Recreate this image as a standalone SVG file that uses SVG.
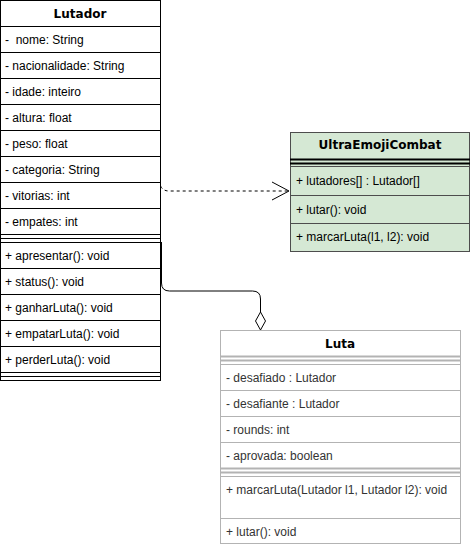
<svg xmlns="http://www.w3.org/2000/svg" width="472" height="548" viewBox="0 0 472 548">
<defs>
<style>
.t{font-family:"Liberation Sans",Arial,sans-serif;font-size:12px;fill:#000;dominant-baseline:central;white-space:pre}
.h{font-family:"DejaVu Sans",Verdana,sans-serif;font-size:12px;font-weight:bold;fill:#000;text-anchor:middle;dominant-baseline:central}
.bl{stroke:#000;stroke-width:1;fill:none}
.gr{stroke:#B3B3B3;stroke-width:1;fill:none}
.gt{fill:#333}
</style>
</defs>
<rect width="472" height="548" fill="#fff"/>
<g id="connectors">
<path d="M160.5,186 Q163,191 169,191 L288,191" fill="none" stroke="#000" stroke-dasharray="3,3"/>
<path d="M272,182 L289,191 L272,200" fill="none" stroke="#000"/>
<path d="M161.5,242 L161.5,283 Q161.5,291 169.5,291 L252.5,291 Q260.5,291 260.5,299 L260.5,312" fill="none" stroke="#000"/>
<path d="M260.5,312 L265.5,321 L260.5,330 L255.5,321 Z" fill="#fff" stroke="#000"/>
</g>
<g id="Lutador">
<rect x="0.5" y="0.5" width="160" height="380" fill="#fff" stroke="#000"/>
<text class="h" x="80" y="14">Lutador</text>
<path class="bl" d="M0,26.5H161M0,52.5H161M0,78.5H161M0,104.5H161M0,130.5H161M0,156.5H161M0,182.5H161M0,208.5H161M0,234.5H161M0,238.5H161M0,242.5H161M0,268.5H161M0,294.5H161M0,320.5H161M0,346.5H161M0,372.5H161M0,376.5H161"/>
<text class="t" x="5" y="40" xml:space="preserve">-  nome: String</text>
<text class="t" x="5" y="66">- nacionalidade: String</text>
<text class="t" x="5" y="92">- idade: inteiro</text>
<text class="t" x="5" y="118">- altura: float</text>
<text class="t" x="5" y="144">- peso: float</text>
<text class="t" x="5" y="170">- categoria: String</text>
<text class="t" x="5" y="196">- vitorias: int</text>
<text class="t" x="5" y="222">- empates: int</text>
<text class="t" x="5" y="256">+ apresentar(): void</text>
<text class="t" x="5" y="282">+ status(): void</text>
<text class="t" x="5" y="308">+ ganharLuta(): void</text>
<text class="t" x="5" y="334">+ empatarLuta(): void</text>
<text class="t" x="5" y="360">+ perderLuta(): void</text>
</g>
<g id="UltraEmojiCombat">
<rect x="290.5" y="132.5" width="179" height="119" fill="#D5E8D4" stroke="#4D4D4D"/>
<text class="h" x="380" y="145">UltraEmojiCombat</text>
<path d="M290,159.5H470M290,163.5H470" stroke="#000" stroke-width="2" fill="none"/>
<path d="M290,166.5H470M290,195.5H470M290,223.5H470" stroke="#4D4D4D" fill="none"/>
<text class="t" x="296" y="181">+ lutadores[] : Lutador[]</text>
<text class="t" x="296" y="210">+ lutar(): void</text>
<text class="t" x="296" y="237">+ marcarLuta(l1, l2): void</text>
</g>
<g id="Luta">
<rect x="220.5" y="330.5" width="240" height="213" fill="#fff" stroke="#B3B3B3"/>
<text class="h" x="340" y="344">Luta</text>
<path d="M220,356.5H461M220,360.5H461" stroke="#B3B3B3" stroke-width="2" fill="none"/>
<path class="gr" d="M220,364.5H461M220,390.5H461M220,416.5H461M220,442.5H461M220,476.5H461M220,518.5H461"/>
<path d="M220,468.5H461M220,472.5H461" stroke="#B3B3B3" stroke-width="2" fill="none"/>
<text class="t gt" x="226" y="378">- desafiado : Lutador</text>
<text class="t gt" x="226" y="404">- desafiante : Lutador</text>
<text class="t gt" x="226" y="430">- rounds: int</text>
<text class="t gt" x="226" y="456">- aprovada: boolean</text>
<text class="t gt" x="226" y="490">+ marcarLuta(Lutador l1, Lutador l2): void</text>
<text class="t gt" x="226" y="532">+ lutar(): void</text>
</g>
</svg>
